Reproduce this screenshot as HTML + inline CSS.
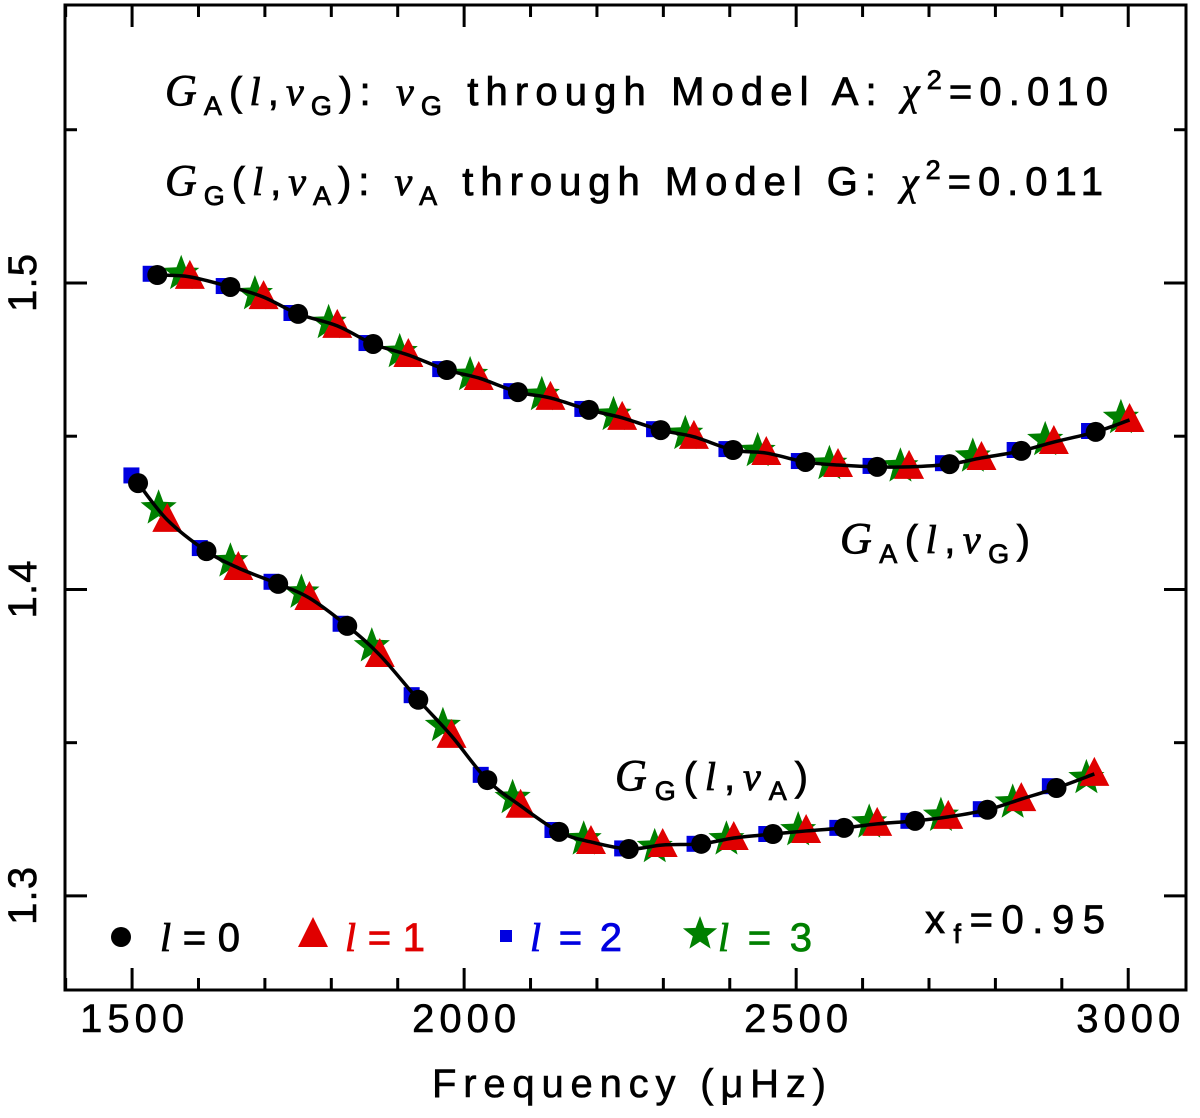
<!DOCTYPE html>
<html><head><meta charset="utf-8"><style>
html,body{margin:0;padding:0;background:#fff;}
svg text{font-family:"Liberation Sans","DejaVu Sans",sans-serif;}
.b{stroke-width:0.8;}
</style></head><body>
<svg id="chart" width="1200" height="1113" xmlns="http://www.w3.org/2000/svg">
<g id="marks"></g>
<g id="axes"></g>
<g font-size="40" fill="#000" stroke="#000" class="b">
<text x="165" y="105" textLength="943" lengthAdjust="spacing"><tspan font-family="Liberation Serif" font-style="italic" font-size="44">G</tspan><tspan font-size="27" dy="10">A</tspan><tspan dy="-10">(</tspan><tspan font-family="Liberation Serif" font-style="italic">l</tspan>,<tspan font-family="Liberation Serif" font-style="italic">ν</tspan><tspan font-size="27" dy="10">G</tspan><tspan dy="-10">): </tspan><tspan font-family="Liberation Serif" font-style="italic">ν</tspan><tspan font-size="27" dy="10">G</tspan><tspan dy="-10"> through Model A: </tspan><tspan font-family="Liberation Serif" font-style="italic">χ</tspan><tspan font-size="27" dy="-16">2</tspan><tspan dy="16">=0.010</tspan></text>
<text x="165" y="195" textLength="938" lengthAdjust="spacing"><tspan font-family="Liberation Serif" font-style="italic" font-size="44">G</tspan><tspan font-size="27" dy="10">G</tspan><tspan dy="-10">(</tspan><tspan font-family="Liberation Serif" font-style="italic">l</tspan>,<tspan font-family="Liberation Serif" font-style="italic">ν</tspan><tspan font-size="27" dy="10">A</tspan><tspan dy="-10">): </tspan><tspan font-family="Liberation Serif" font-style="italic">ν</tspan><tspan font-size="27" dy="10">A</tspan><tspan dy="-10"> through Model G: </tspan><tspan font-family="Liberation Serif" font-style="italic">χ</tspan><tspan font-size="27" dy="-16">2</tspan><tspan dy="16">=0.011</tspan></text>
<text x="840" y="553" textLength="190" lengthAdjust="spacing"><tspan font-family="Liberation Serif" font-style="italic" font-size="44">G</tspan><tspan font-size="27" dy="10">A</tspan><tspan dy="-10">(</tspan><tspan font-family="Liberation Serif" font-style="italic">l</tspan>,<tspan font-family="Liberation Serif" font-style="italic">ν</tspan><tspan font-size="27" dy="10">G</tspan><tspan dy="-10">)</tspan></text>
<text x="615" y="790" textLength="193" lengthAdjust="spacing"><tspan font-family="Liberation Serif" font-style="italic" font-size="44">G</tspan><tspan font-size="27" dy="10">G</tspan><tspan dy="-10">(</tspan><tspan font-family="Liberation Serif" font-style="italic">l</tspan>,<tspan font-family="Liberation Serif" font-style="italic">ν</tspan><tspan font-size="27" dy="10">A</tspan><tspan dy="-10">)</tspan></text>
<text x="925" y="933" textLength="180" lengthAdjust="spacing">x<tspan font-size="27" dy="10">f</tspan><tspan dy="-10">=0.95</tspan></text>
</g>
<g font-size="40" class="b">
<g><circle cx="121" cy="937" r="10" fill="#000"/><text x="160" y="951" fill="#000" stroke="#000" textLength="80" lengthAdjust="spacing"><tspan font-family="Liberation Serif" font-style="italic">l</tspan>=0</text></g>
<g><polygon points="298,947 328,947 313,917" fill="#e00000"/><text x="345" y="951" fill="#e00000" stroke="#e00000" textLength="80" lengthAdjust="spacing"><tspan font-family="Liberation Serif" font-style="italic">l</tspan>=1</text></g>
<g><rect x="500" y="930" width="12" height="12" fill="#0000e0"/><text x="530" y="951" fill="#0000e0" stroke="#0000e0" textLength="92" lengthAdjust="spacing"><tspan font-family="Liberation Serif" font-style="italic">l</tspan>=2</text></g>
<g><polygon id="lstar" fill="#008000"/><text x="718" y="951" fill="#008000" stroke="#008000" textLength="94" lengthAdjust="spacing"><tspan font-family="Liberation Serif" font-style="italic">l</tspan>=3</text></g>
</g>
</svg>
<script>
const upperL0Freq=[1538,1648,1750,1863,1974,2081,2188,2296,2405,2514,2622,2731,2839,2951];
const upperL0Val=[1.5026,1.4987,1.4899,1.4801,1.4716,1.4644,1.4586,1.4520,1.4455,1.4416,1.4400,1.4409,1.4452,1.4514];
const upperL1Freq=[1587,1698,1809,1916,2022,2130,2238,2346,2455,2563,2670,2779,2888,3002];
const upperL1Val=[1.5020,1.4954,1.4860,1.4765,1.4690,1.4625,1.4560,1.4498,1.4445,1.4406,1.4400,1.4429,1.4481,1.4553];
const upperL2Freq=[1528,1638,1740,1853,1964,2071,2178,2286,2395,2504,2612,2721,2829,2941];
const upperL2Val=[1.5030,1.4990,1.4902,1.4804,1.4719,1.4647,1.4589,1.4523,1.4458,1.4419,1.4403,1.4412,1.4455,1.4517];
const upperL3Freq=[1574,1685,1796,1903,2009,2117,2225,2333,2442,2550,2657,2766,2875,2989];
const upperL3Val=[1.5030,1.4964,1.4870,1.4775,1.4700,1.4635,1.4570,1.4508,1.4452,1.4410,1.4402,1.4434,1.4488,1.4560];
const lowerL0Freq=[1509,1612,1720,1824,1931,2035,2143,2248,2357,2465,2572,2679,2788,2892];
const lowerL0Val=[1.4347,1.4125,1.4018,1.3881,1.3640,1.3378,1.3209,1.3153,1.3170,1.3202,1.3222,1.3245,1.3281,1.3352];
const lowerL1Freq=[1553,1660,1767,1873,1981,2085,2191,2299,2406,2515,2622,2729,2839,2949];
const lowerL1Val=[1.4227,1.4070,1.3972,1.3786,1.3522,1.3294,1.3176,1.3166,1.3189,1.3212,1.3235,1.3258,1.3316,1.3398];
const lowerL2Freq=[1499,1602,1710,1814,1921,2025,2133,2238,2347,2455,2562,2669,2778,2882];
const lowerL2Val=[1.4372,1.4135,1.4025,1.3888,1.3655,1.3395,1.3215,1.3155,1.3170,1.3202,1.3222,1.3245,1.3283,1.3358];
const lowerL3Freq=[1540,1648,1755,1861,1968,2073,2180,2287,2395,2503,2610,2718,2826,2937];
const lowerL3Val=[1.4265,1.4092,1.3990,1.3815,1.3555,1.3320,1.3185,1.3160,1.3185,1.3215,1.3240,1.3262,1.3305,1.3385];
const xTicks=[1500,2000,2500,3000];
const yTicks=[1.3,1.4,1.5];

const L=65,R=1186,T=5,B=990;
const xMin=1399,xMax=3087,yMin=1.2693,yMax=1.5907;
const X=f=>L+(f-xMin)/(xMax-xMin)*(R-L);
const Y=v=>B-(v-yMin)/(yMax-yMin)*(B-T);
const NS="http://www.w3.org/2000/svg";
const marks=document.getElementById('marks'),axes=document.getElementById('axes');
function mk(tag,attrs,parent){const e=document.createElementNS(NS,tag);for(const k in attrs)e.setAttribute(k,attrs[k]);parent.appendChild(e);return e;}
function starPts(cx,cy,r){let p=[];for(let i=0;i<10;i++){const a=-Math.PI/2+i*Math.PI/5;const rr=i%2?r*0.42:r;p.push((cx+rr*Math.cos(a)).toFixed(1)+','+(cy+rr*Math.sin(a)).toFixed(1));}return p.join(' ');}
document.getElementById('lstar').setAttribute('points',starPts(700,934,18));

function smoothPath(fr,vals){
  const pts=fr.map((f,i)=>[X(f),Y(vals[i])]).sort((a,b)=>a[0]-b[0]);
  let d='M'+pts[0][0]+','+pts[0][1];
  for(let i=0;i<pts.length-1;i++){const p0=pts[Math.max(0,i-1)],p1=pts[i],p2=pts[i+1],p3=pts[Math.min(pts.length-1,i+2)];
    const c1=[p1[0]+(p2[0]-p0[0])/6,p1[1]+(p2[1]-p0[1])/6],c2=[p2[0]-(p3[0]-p1[0])/6,p2[1]-(p3[1]-p1[1])/6];
    d+=' C'+c1.join(',')+' '+c2.join(',')+' '+p2.join(',');}
  return d;
}
function drawSet(prefix,f0,v0,f1,v1,f2,v2,f3,v3){
  const g=mk('g',{},marks);
  
  
  f2.forEach((f,i)=>{const e=mk('rect',{x:X(f)-8,y:Y(v2[i])-8,width:16,height:16,fill:'#0000e0'},g);
    
    });
  f3.forEach((f,i)=>{const e=mk('polygon',{points:starPts(X(f),Y(v3[i]),19),fill:'#008000'},g);
    
    });
  f1.forEach((f,i)=>{const x=X(f),y=Y(v1[i]);const e=mk('polygon',{points:(x-15)+','+(y+12)+' '+(x+15)+','+(y+12)+' '+x+','+(y-17),fill:'#e00000'},g);
    
    });
  const allF=f0.concat(f1),allV=v0.concat(v1);
  const ln=mk('path',{d:smoothPath(allF,allV),fill:'none',stroke:'#000','stroke-width':3.5},g);
  
  
  f0.forEach((f,i)=>{const e=mk('circle',{cx:X(f),cy:Y(v0[i]),r:10,fill:'#000'},g);
    
    });
}
drawSet('upper',upperL0Freq,upperL0Val,upperL1Freq,upperL1Val,upperL2Freq,upperL2Val,upperL3Freq,upperL3Val);
drawSet('lower',lowerL0Freq,lowerL0Val,lowerL1Freq,lowerL1Val,lowerL2Freq,lowerL2Val,lowerL3Freq,lowerL3Val);

const frame=mk('rect',{x:L,y:T,width:R-L,height:B-T,fill:'none',stroke:'#000','stroke-width':3},axes);


for(let f=1400;f<=3000;f+=100){const x=X(f);const len=f%500===0?22:12;
  mk('line',{x1:x,y1:B,x2:x,y2:B-len,stroke:'#000','stroke-width':3},axes);
  mk('line',{x1:x,y1:T,x2:x,y2:T+len,stroke:'#000','stroke-width':3},axes);}
for(let k=0;k<=6;k++){const v=1.3+(k-1)*0.05;const y=Y(v);if(y<T||y>B)continue;const len=(k%2===1)?22:12;
  mk('line',{x1:L,y1:y,x2:L+len,y2:y,stroke:'#000','stroke-width':3},axes);
  mk('line',{x1:R,y1:y,x2:R-len,y2:y,stroke:'#000','stroke-width':3},axes);}
xTicks.forEach(f=>{const t=mk('text',{x:X(f)-52,y:1032,'font-size':40,textLength:104,lengthAdjust:'spacing',stroke:'#000','stroke-width':0.6},axes);t.textContent=f;
  
  });
yTicks.forEach(v=>{const y=Y(v);const t=mk('text',{x:-29,y:0,'font-size':40,textLength:58,lengthAdjust:'spacing',stroke:'#000','stroke-width':0.6,transform:'translate(36,'+y+') rotate(-90)'},axes);t.textContent=v.toFixed(1);
  
  });
const xt=mk('text',{x:432,y:1097,'font-size':40,textLength:394,lengthAdjust:'spacing',stroke:'#000','stroke-width':0.6},axes);
xt.textContent='Frequency (μHz)';


</script>
</body></html>
